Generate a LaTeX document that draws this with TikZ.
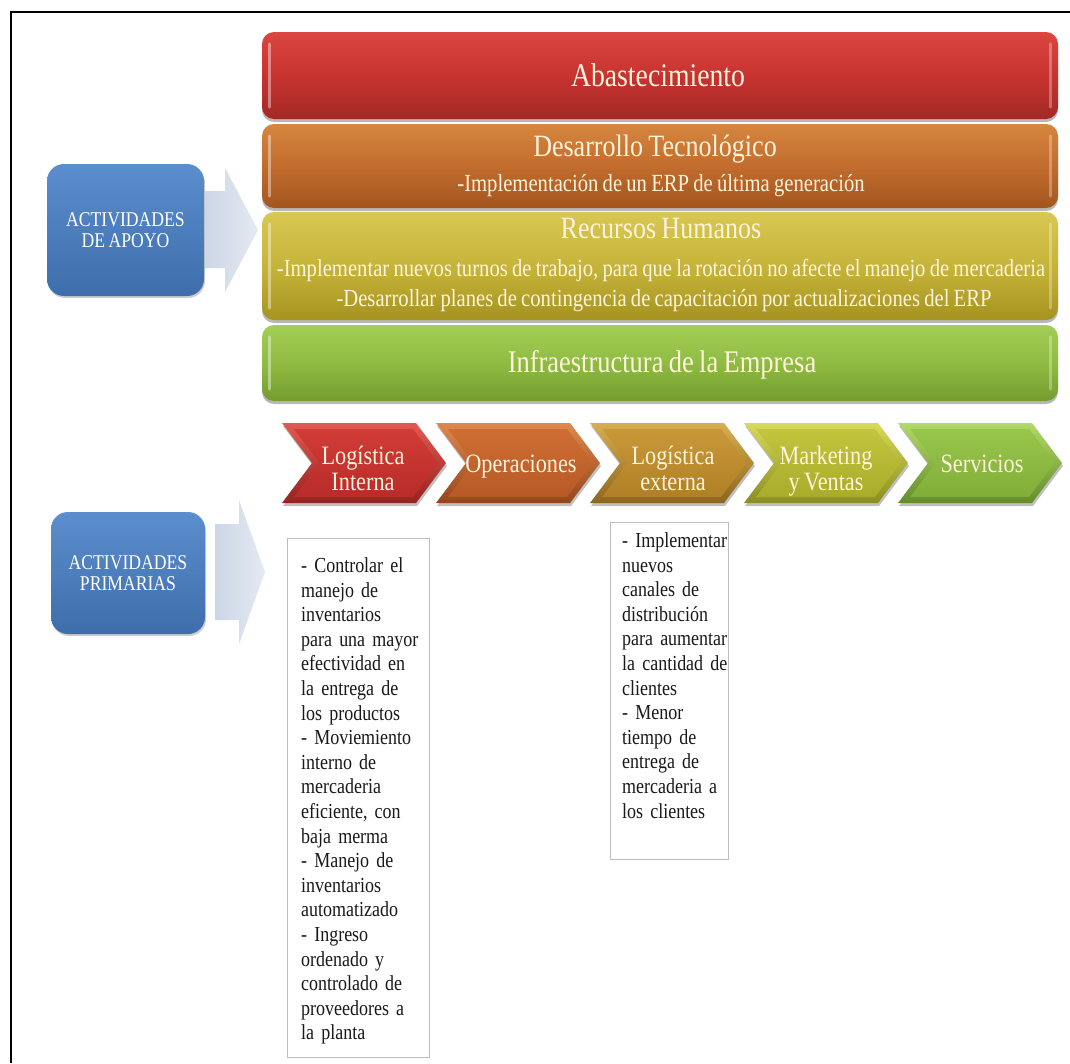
\documentclass[tikz,border=0pt]{standalone}
\usepackage{fontspec}
\setmainfont{Liberation Serif}[FakeStretch=0.84]
\usetikzlibrary{shadows}

% bar colours (top / middle / bottom)
\definecolor{creamtext}{HTML}{FFF3DC}
\definecolor{abT}{HTML}{DD4641}\definecolor{abM}{HTML}{C7332F}\definecolor{abB}{HTML}{A42826}
\definecolor{deT}{HTML}{D6863F}\definecolor{deM}{HTML}{C26C2D}\definecolor{deB}{HTML}{A3551F}
\definecolor{reT}{HTML}{D8C752}\definecolor{reM}{HTML}{C6B43A}\definecolor{reB}{HTML}{A69320}
\definecolor{inT}{HTML}{A4CE56}\definecolor{inM}{HTML}{8FBC42}\definecolor{inB}{HTML}{739C2E}
% blue boxes, block arrows, note boxes
\definecolor{blT}{HTML}{5B8ECE}\definecolor{blB}{HTML}{3E6DAB}
\definecolor{arL}{HTML}{CCD6E5}\definecolor{arR}{HTML}{E4EAF3}
\definecolor{boxline}{HTML}{BDBDBD}
% chevrons: bevel light, face top, face bottom, bevel dark
\definecolor{cAl}{HTML}{E25A52}\definecolor{cAt}{HTML}{D23C36}\definecolor{cAb}{HTML}{B82C2A}\definecolor{cAd}{HTML}{962220}
\definecolor{cBl}{HTML}{E0884E}\definecolor{cBt}{HTML}{CE6E34}\definecolor{cBb}{HTML}{B85A26}\definecolor{cBd}{HTML}{94461C}
\definecolor{cCl}{HTML}{D8AE52}\definecolor{cCt}{HTML}{C89838}\definecolor{cCb}{HTML}{B08026}\definecolor{cCd}{HTML}{8C661C}
\definecolor{cDl}{HTML}{D8DA5A}\definecolor{cDt}{HTML}{C4C43C}\definecolor{cDb}{HTML}{A8AC2A}\definecolor{cDd}{HTML}{888E20}
\definecolor{cEl}{HTML}{B2DA68}\definecolor{cEt}{HTML}{98C64C}\definecolor{cEb}{HTML}{80AE38}\definecolor{cEd}{HTML}{648C2A}

% font sizes; word spaces kept tight as in the slide
\newcommand\tightsp{\spaceskip=0.17em plus 0.04em\relax}
\newcommand\fsA{\fontsize{33}{36}\selectfont\tightsp}
\newcommand\fsH{\fontsize{31}{34}\selectfont\tightsp}
\newcommand\fsI{\fontsize{31.5}{34}\selectfont\tightsp}
\newcommand\fsS{\fontsize{24.6}{26}\selectfont\tightsp}
\newcommand\fsC{\fontsize{26.5}{26}\selectfont\tightsp}
\newcommand\fsB{\fontsize{21}{21}\selectfont\tightsp}
\newcommand\fsT{\fontsize{21.4}{24.6}\selectfont\tightsp}

\begin{document}
\begin{tikzpicture}[x=1pt,y=-1pt,
  bar/.style={rounded corners=12pt, minimum width=796pt, inner sep=0pt,
    drop shadow={shadow xshift=0pt, shadow yshift=-3pt, opacity=0.28, fill=black}},
  gloss/.style={line width=3pt, line cap=round, white, opacity=0.4},
  bartext/.style={text=creamtext, inner sep=0pt, anchor=base},
  bluebox/.style={rounded corners=17pt, inner sep=0pt, top color=blT, bottom color=blB,
    text=white, align=center, font=\fsB,
    drop shadow={shadow xshift=1pt, shadow yshift=-2pt, opacity=0.2, fill=black}},
  blockarrow/.style={left color=arL, right color=arR},
  chevlabel/.style={text=creamtext, inner sep=0pt, align=center, font=\fsC},
  notebox/.style={draw=boxline, line width=1.2pt, fill=white, inner sep=0pt, anchor=north west},
  notetext/.style={inner sep=0pt, anchor=north west, align=left, text width=140pt,
    font=\fsT, text=black!90}
]
\path[use as bounding box, fill=white] (0,0) rectangle (1070,1063);
\draw[line width=2.6pt] (11,1063) -- (11,12) -- (1070,12);

% support activity bars
\node[bar, minimum height=87pt, top color=abT, bottom color=abB, middle color=abM] (abast) at (660,75.5) {};
\node[bar, minimum height=84pt, top color=deT, bottom color=deB, middle color=deM] (desa) at (660,166) {};
\node[bar, minimum height=108pt, top color=reT, bottom color=reB, middle color=reM] (rrhh) at (660,266) {};
\node[bar, minimum height=76pt, top color=inT, bottom color=inB, middle color=inM] (infra) at (660,363) {};
\foreach \n in {abast,desa,rrhh,infra}{
  \draw[gloss] ([xshift=8pt,yshift=-12pt]\n.north west) -- ([xshift=8pt,yshift=12pt]\n.south west);
  \draw[gloss, opacity=0.3] ([xshift=-8pt,yshift=-12pt]\n.north east) -- ([xshift=-8pt,yshift=12pt]\n.south east);
}

\node[bartext, font=\fsA] (tabast) at (658,86) {Abastecimiento};
\node[bartext, font=\fsH] (tdesa) at (655,156) {Desarrollo Tecnológico};
\node[bartext, font=\fsS] (tdesa2) at (661,191) {-Implementación de un ERP de última generación};
\node[bartext, font=\fsH] (trrhh) at (661,238) {Recursos Humanos};
\node[bartext, font=\fsS] (trrhh2) at (661,276) {-Implementar nuevos turnos de trabajo, para que la rotación no afecte el manejo de mercaderia};
\node[bartext, font=\fsS] (trrhh3) at (664,306) {-Desarrollar planes de contingencia de capacitación por actualizaciones del ERP};
\node[bartext, font=\fsI] (tinfra) at (662,372) {Infraestructura de la Empresa};

% left-hand labels and their block arrows
\node[bluebox, minimum width=157pt, minimum height=132pt] (apoyo) at (125.5,230) {ACTIVIDADES\\DE APOYO};
\node[bluebox, minimum width=154pt, minimum height=122pt] (prim) at (128,573) {ACTIVIDADES\\PRIMARIAS};
\path[blockarrow] (205,191) -- (225,191) -- (225,168) -- (258,230) -- (225,292) -- (225,268) -- (205,268) -- cycle;
\path[blockarrow] (215,524) -- (239,524) -- (239,500) -- (265,572) -- (239,644) -- (239,620) -- (215,620) -- cycle;

% primary activity chevrons
\foreach \i/\cl/\ct/\cb/\cd in {0/cAl/cAt/cAb/cAd, 1/cBl/cBt/cBb/cBd, 2/cCl/cCt/cCb/cCd, 3/cDl/cDt/cDb/cDd, 4/cEl/cEt/cEb/cEd}{
  \pgfmathsetmacro\s{282+154*\i}
  \path[top color=\cl, bottom color=\cd, drop shadow={shadow xshift=1pt, shadow yshift=-3pt, opacity=0.25, fill=black}]
    (\s,423) -- ++(134,0) -- ++(30,40) -- ++(-30,40) -- ++(-134,0) -- ++(30,-40) -- cycle;
  \path[top color=\ct, bottom color=\cb]
    (\s+12,429) -- (\s+131,429) -- (\s+156.5,463) -- (\s+131,497) -- (\s+12,497) -- (\s+37.5,463) -- cycle;
}
\node[chevlabel] (li) at (363,472) {\strut Logística\\\strut Interna};
\node[chevlabel] (op) at (521,467) {\strut Operaciones};
\node[chevlabel] (le) at (673,472) {\strut Logística\\\strut externa};
\node[chevlabel] (mv) at (826,472) {\strut Marketing\\\strut y Ventas};
\node[chevlabel] (sv) at (982,467) {\strut Servicios};

% note boxes
\node[notebox, minimum width=142pt, minimum height=519pt] (b1) at (287,538) {};
\node[notebox, minimum width=118pt, minimum height=337pt] (b2) at (610,522) {};
\node[notetext] (t1) at (301,555) {\strut - Controlar el\\manejo de\\inventarios\\para una mayor\\efectividad en\\la entrega de\\los productos\\- Moviemiento\\interno de\\mercaderia\\eficiente, con\\baja merma\\- Manejo de\\inventarios\\automatizado\\- Ingreso\\ordenado y\\controlado de\\proveedores a\\la planta};
\node[notetext] (t2) at (622,530) {\strut - Implementar\\nuevos\\canales de\\distribución\\para aumentar\\la cantidad de\\clientes\\- Menor\\tiempo de\\entrega de\\mercaderia a\\los clientes};
\end{tikzpicture}
\end{document}
